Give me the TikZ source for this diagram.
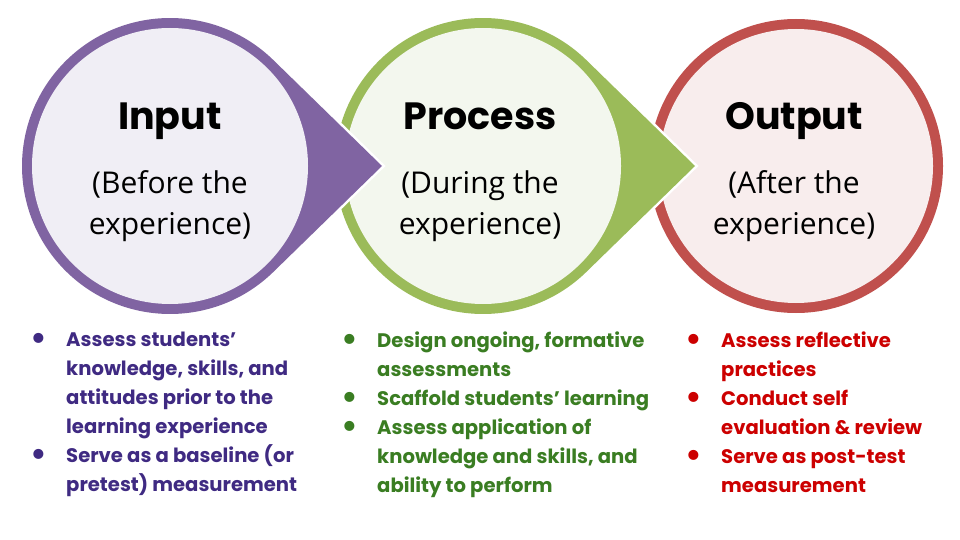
\documentclass[tikz,border=0pt]{standalone}
\usepackage{fontspec}
\setmainfont{Poppins}
\newfontfamily\handfont{Open Sans}
\usetikzlibrary{positioning}
\definecolor{inring}{HTML}{8064A2}
\definecolor{infill}{HTML}{F0EEF5}
\definecolor{procring}{HTML}{9BBB59}
\definecolor{procfill}{HTML}{F3F7EE}
\definecolor{outring}{HTML}{C0504D}
\definecolor{outfill}{HTML}{F8EDED}
\definecolor{intext}{HTML}{3F2A82}
\definecolor{proctext}{HTML}{3A7D22}
\definecolor{outtext}{HTML}{CC0000}
\newcommand{\bul}{\makebox[36pt][l]{\raisebox{-0.12em}{\scalebox{1.7}{\textbullet}}}}
\newcommand{\ind}{\hspace*{36pt}}

\begin{document}
\begin{tikzpicture}[
      x=1pt, y=-1pt,
      head/.style={font=\fontsize{38}{40}\selectfont\bfseries, inner sep=0pt,
                   text height=28pt, text depth=9pt, anchor=base},
      sub/.style={font=\handfont\fontsize{30}{41}\selectfont, align=center,
                  inner sep=0pt, below=31pt of #1},
      list/.style={font=\fontsize{19.6}{29}\selectfont\bfseries, align=left,
                   inner sep=0pt, anchor=north west},
    ]
    \useasboundingbox (0,0) rectangle (960,540);

    % output circle (no point)
    \fill[outring] (796,166) circle[radius=147];
    \fill[outfill] (796,166) circle[radius=137];

    % drop shapes, back to front
    \foreach \cx/\ring/\inner in {483/procring/procfill, 170/inring/infill}{
      \path[fill=\ring, preaction={draw=white, line width=5pt}]
        (\cx+212,166) -- ([shift={(\cx,166)}]-45.7:148)
        arc[start angle=-45.7, end angle=-314.3, radius=148] -- cycle;
      \fill[\inner] (\cx,166) circle[radius=138];
    }

    % titles
    \node[head] (input) at (170,130) {Input};
    \node[head] (process) at (480,130) {Process};
    \node[head] (output) at (794,130) {Output};

    \node[sub=input] (inputsub) {(Before the\\experience)};
    \node[sub=process] (processsub) {(During the\\experience)};
    \node[sub=output] (outputsub) {(After the\\experience)};

    % bullet lists
    \node[list, text=intext] (inlist) at (30,332)
      {\bul Assess students’\\\ind knowledge, skills, and\\\ind attitudes prior to the\\
       \ind learning experience\\\bul Serve as a baseline (or\\\ind pretest) measurement};
    \node[list, text=proctext] (proclist) at (341,332)
      {\bul Design ongoing, formative\\\ind assessments\\\bul Scaffold students’ learning\\
       \bul Assess application of\\\ind knowledge and skills, and\\\ind ability to perform};
    \node[list, text=outtext] (outlist) at (685,332)
      {\bul Assess reflective\\\ind practices\\\bul Conduct self\\
       \ind evaluation \& review\\\bul Serve as post-test\\\ind measurement};
  \end{tikzpicture}
\end{document}
